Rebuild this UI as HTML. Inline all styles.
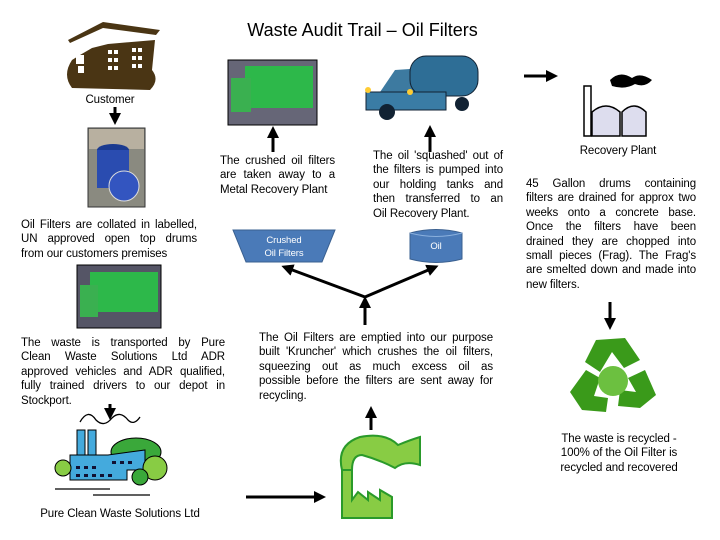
<!DOCTYPE html>
<html><head><meta charset="utf-8"><style>
body{margin:0;width:720px;height:540px;background:#fff;position:relative;overflow:hidden;font-family:"Liberation Sans",Arial,sans-serif;color:#000}
.t{position:absolute;font-size:11.5px;line-height:14.4px;letter-spacing:-0.1px}
.t span{display:block;white-space:nowrap;text-align:justify;text-align-last:justify}
.t span.l{text-align-last:left}
.c{text-align:center}
svg{position:absolute;left:0;top:0}
</style></head><body>
<svg width="720" height="540" viewBox="0 0 720 540">
<defs><marker id="a" markerWidth="4" markerHeight="4" refX="2" refY="2" orient="auto" markerUnits="strokeWidth"><path d="M0,0 L4,2 L0,4 z" fill="#000"/></marker></defs>
<path d="M68,40 L103,22 L160,30 L156,35 L103,28 L70,43z" fill="#4a3514"/>
<path d="M72,60 Q62,75 72,88 L150,90 Q160,80 152,70 L155,40 L108,44 L92,48 L80,55z" fill="#4a3514"/>
<g fill="#fff"><rect x="76" y="55" width="8" height="9"/><rect x="78" y="66" width="6" height="7"/>
<rect x="108" y="50" width="4" height="4"/><rect x="114" y="50" width="4" height="4"/><rect x="108" y="58" width="4" height="4"/><rect x="114" y="58" width="4" height="4"/><rect x="108" y="66" width="4" height="4"/><rect x="114" y="66" width="4" height="4"/>
<rect x="132" y="48" width="4" height="4"/><rect x="138" y="48" width="4" height="4"/><rect x="132" y="56" width="4" height="4"/><rect x="138" y="56" width="4" height="4"/><rect x="132" y="64" width="4" height="4"/><rect x="138" y="64" width="4" height="4"/></g>
<rect x="88" y="128" width="57" height="79" fill="#8a8a80" stroke="#333"/>
<rect x="89" y="129" width="55" height="20" fill="#b8b0a0"/>
<ellipse cx="113" cy="150" rx="16" ry="6" fill="#1a3a90"/><rect x="97" y="150" width="32" height="38" fill="#2a4cb0"/>
<circle cx="124" cy="186" r="15" fill="#3355c0" stroke="#ddd"/>
<rect x="77" y="265" width="84" height="63" fill="#556" stroke="#000"/>
<rect x="90" y="272" width="68" height="40" fill="#2db84a"/><rect x="80" y="285" width="18" height="32" fill="#3ab050"/>
<rect x="228" y="60" width="89" height="65" fill="#667" stroke="#000"/>
<rect x="245" y="66" width="68" height="42" fill="#2db84a"/><rect x="231" y="78" width="20" height="34" fill="#3ab050"/>
<path d="M378,95 L395,70 L425,68 L430,95z" fill="#3d7aa0"/>
<rect x="410" y="56" width="68" height="40" rx="16" fill="#2e6e96" stroke="#123"/>
<rect x="366" y="92" width="80" height="18" fill="#3a7ca5" stroke="#123"/>
<circle cx="387" cy="112" r="8" fill="#123"/><circle cx="462" cy="104" r="7" fill="#123"/>
<circle cx="368" cy="90" r="3" fill="#fc3"/><circle cx="410" cy="92" r="3" fill="#fc3"/>
<path d="M610,80 Q620,70 632,78 Q640,72 652,80 Q645,88 635,84 Q625,90 612,86z" fill="#000"/>
<rect x="584" y="86" width="7" height="50" fill="#fff" stroke="#000" stroke-width="1.5"/>
<path d="M592,136 L592,112 Q606,100 620,112 L620,136z" fill="#dde" stroke="#000" stroke-width="1.5"/>
<path d="M622,136 L622,112 Q634,100 646,112 L646,136z" fill="#dde" stroke="#000" stroke-width="1.5"/>
<g fill="#3a9a1a"><path d="M596,340 L625,338 L640,360 L624,368 L612,352 L600,372 L585,362z"/><path d="M645,370 L656,395 L640,408 L618,406 L620,390 L636,392 L628,378z"/><path d="M586,370 L600,378 L594,396 L608,398 L606,412 L582,410 L570,392z"/></g>
<circle cx="613" cy="381" r="15" fill="#6cc040"/>
<path d="M80,422 Q88,408 96,420 Q104,428 112,418 Q120,410 128,420 Q134,426 140,417" fill="none" stroke="#000" stroke-width="1.3"/>
<ellipse cx="136" cy="452" rx="25" ry="14" fill="#3aa83a" stroke="#000"/>
<rect x="77" y="430" width="8" height="25" fill="#44aadd" stroke="#000"/><rect x="88" y="430" width="8" height="25" fill="#44aadd" stroke="#000"/>
<path d="M70,455 L70,480 L127,480 L127,470 L145,470 L145,450 L108,455z" fill="#44aadd" stroke="#000"/>
<g fill="#113"><rect x="76" y="466" width="4" height="3"/><rect x="84" y="466" width="4" height="3"/><rect x="92" y="466" width="4" height="3"/><rect x="76" y="474" width="4" height="3"/><rect x="84" y="474" width="4" height="3"/><rect x="92" y="474" width="4" height="3"/><rect x="100" y="474" width="4" height="3"/><rect x="108" y="474" width="4" height="3"/><rect x="112" y="461" width="4" height="3"/><rect x="120" y="461" width="4" height="3"/><rect x="128" y="461" width="4" height="3"/></g>
<circle cx="63" cy="468" r="8" fill="#88cc44" stroke="#000"/><circle cx="155" cy="468" r="12" fill="#88cc44" stroke="#000"/><circle cx="140" cy="477" r="8" fill="#3aa83a" stroke="#000"/>
<line x1="55" y1="489" x2="110" y2="489" stroke="#000" stroke-width="1.3"/><line x1="93" y1="495" x2="150" y2="495" stroke="#000" stroke-width="1.3"/>
<path d="M342,470 Q336,445 360,437 Q385,432 398,445 Q410,440 420,437 L420,465 Q405,460 395,468 Q380,460 362,455 Q352,455 352,470z" fill="#88cc44" stroke="#2a9a2a" stroke-width="2"/>
<path d="M342,470 L352,470 L352,500 L358,492 L368,500 L368,492 L380,500 L380,490 L392,497 L392,518 L342,518z" fill="#88cc44" stroke="#2a9a2a" stroke-width="2"/>
<path d="M233,230 L335,230 L322,262 L246,262z" fill="#4a7ab8" stroke="#3a6090"/>
<path d="M410,233 Q436,226 462,233 L462,259 Q436,266 410,259z" fill="#4a7ab8" stroke="#3a6090"/>
<path d="M410,233 Q436,240 462,233" fill="none" stroke="#8ab0dd"/>
<g stroke="#000" stroke-width="3" fill="none" marker-end="url(#a)">
<line x1="115" y1="107" x2="115" y2="119"/>
<line x1="110" y1="404" x2="110" y2="414"/>
<line x1="246" y1="497" x2="320" y2="497"/>
<line x1="371" y1="430" x2="371" y2="412"/>
<line x1="365" y1="325" x2="365" y2="302"/>
<line x1="365" y1="297" x2="287" y2="268"/>
<line x1="365" y1="297" x2="433" y2="268"/>
<line x1="273" y1="152" x2="273" y2="132"/>
<line x1="430" y1="152" x2="430" y2="131"/>
<line x1="524" y1="76" x2="552" y2="76"/>
<line x1="610" y1="302" x2="610" y2="324"/>
</g>
</svg>
<div style="position:absolute;left:0;width:725px;top:20px;text-align:center;font-size:18px">Waste Audit Trail – Oil Filters</div>
<div class="t c" style="left:70px;width:80px;top:93px">Customer</div>
<div class="t" style="left:21px;width:176px;top:218px"><span>Oil Filters are collated in labelled,</span><span>UN approved open top drums</span><span class="l">from our customers premises</span></div>
<div class="t" style="left:21px;width:204px;top:336px"><span>The waste is transported by Pure</span><span>Clean Waste Solutions Ltd ADR</span><span>approved vehicles and ADR qualified,</span><span>fully trained drivers to our depot in</span><span class="l">Stockport.</span></div>
<div class="t c" style="left:20px;width:200px;top:507px">Pure Clean Waste Solutions Ltd</div>
<div class="t" style="left:220px;width:115px;top:154px"><span>The crushed oil filters</span><span>are taken away to a</span><span class="l">Metal Recovery Plant</span></div>
<div class="t" style="left:373px;width:130px;top:149px"><span>The oil 'squashed' out of</span><span>the filters is pumped into</span><span>our holding tanks and</span><span>then transferred to an</span><span class="l">Oil Recovery Plant.</span></div>
<div class="t c" style="left:240px;width:88px;top:234px;color:#fff;font-size:9.5px;line-height:13px">Crushed<br>Oil Filters</div>
<div class="t c" style="left:410px;width:52px;top:240px;color:#fff;font-size:9.5px">Oil</div>
<div class="t" style="left:259px;width:234px;top:331px"><span>The Oil Filters are emptied into our purpose</span><span>built 'Kruncher' which crushes the oil filters,</span><span>squeezing out as much excess oil as</span><span>possible before the filters are sent away for</span><span class="l">recycling.</span></div>
<div class="t c" style="left:560px;width:116px;top:144px">Recovery Plant</div>
<div class="t" style="left:526px;width:170px;top:177px"><span>45 Gallon drums containing</span><span>filters are drained for approx two</span><span>weeks onto a concrete base.</span><span>Once the filters have been</span><span>drained they are chopped into</span><span>small pieces (Frag). The Frag's</span><span>are smelted down and made into</span><span class="l">new filters.</span></div>
<div class="t c" style="left:548px;width:142px;top:432px">The waste is recycled -<br>100% of the Oil Filter is<br>recycled and recovered</div>
</body></html>
